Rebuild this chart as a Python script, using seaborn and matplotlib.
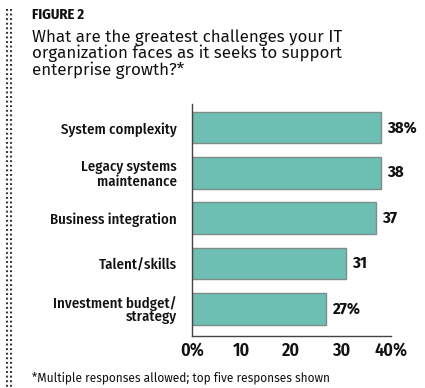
import matplotlib
matplotlib.use("Agg")
import matplotlib.pyplot as plt
from matplotlib.lines import Line2D
import seaborn as sns
import pandas as pd

categories = ["System complexity", "Legacy systems\nmaintenance", "Business integration",
              "Talent/skills", "Investment budget/\nstrategy"]
values = [38, 38, 37, 31, 27]
value_labels = ["38%", "38", "37", "31", "27%"]
xticks = [0, 10, 20, 30, 40]
xtick_labels = ["0%", "10", "20", "30", "40%"]

COND = ["Fira Sans Condensed", "Archivo Narrow", "DejaVu Sans"]
REG = ["Fira Sans", "Open Sans", "DejaVu Sans"]

sns.set_style("white")
plt.rcParams['font.family'] = COND

W, H = 425, 388
fig = plt.figure(figsize=(W / 100, H / 100), dpi=100)

ax = fig.add_axes([192 / W, 1 - 336 / H, (391 - 192) / W, (336 - 104) / H])
df = pd.DataFrame({"cat": categories, "val": values})
sns.barplot(data=df, x="val", y="cat", orient="h", color="#6dbfb4", saturation=1,
            edgecolor="#7f8c8a", linewidth=1.0, width=0.7, ax=ax)

ax.set_xlim(0, 40)
ax.set_ylim(4.6, -0.52)
ax.set_xlabel("")
ax.set_ylabel("")
for s in ["top", "right"]:
    ax.spines[s].set_visible(False)
for s in ["left", "bottom"]:
    ax.spines[s].set_color("#444444")
    ax.spines[s].set_linewidth(1.0)

ax.set_xticks(xticks)
ax.set_xticklabels(xtick_labels, fontsize=13, fontweight="semibold", color="#111111")
ax.tick_params(axis="x", direction="in", length=5, width=1, color="#444444", pad=4)

ax.set_yticks(range(len(categories)))
ax.set_yticklabels(categories, fontsize=10.7, fontweight="medium", color="#111111", linespacing=1.0)
ax.tick_params(axis="y", length=0, pad=11)
ax.set_yticks([i - 0.5 for i in range(len(categories))], minor=True)
ax.tick_params(axis="y", which="minor", direction="in", length=4, width=1, color="#444444")

for i, (v, lab) in enumerate(zip(values, value_labels)):
    ax.annotate(lab, (v, i), xytext=(4.5, 0), textcoords="offset points",
                ha="left", va="center", fontsize=12, fontweight="bold", color="#111111")

fig.text(32 / W, 1 - 19 / H, "FIGURE 2", fontsize=10.5, fontweight="bold", color="#111111")
fig.text(32 / W, 1 - 29 / H, "What are the greatest challenges your IT\norganization faces as it seeks to support\nenterprise growth?*",
         fontsize=12.2, color="#111111", va="top", ha="left", linespacing=0.92, family=REG)
fig.text(32 / W, 1 - 381 / H, "*Multiple responses allowed; top five responses shown",
         fontsize=8.6, color="#111111", family=REG)

# dotted left border decoration
for xp in (7, 11):
    fig.add_artist(Line2D([xp / W, xp / W], [1 - 9 / H, 0], transform=fig.transFigure,
                          color="#333333", linewidth=1.5, linestyle=(0, (0.9, 1.3))))

fig.savefig("out.png", dpi=100)
